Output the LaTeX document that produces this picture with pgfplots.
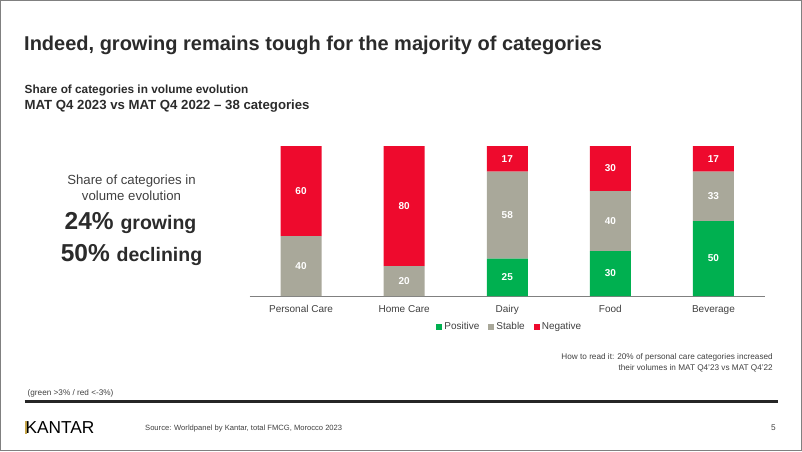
\documentclass[border=0pt]{standalone}
\usepackage{pgfplots}
\usepackage{pgfplotstable}
\pgfplotsset{compat=1.18}
\usepackage{fontspec}
\setmainfont{Liberation Sans}
\definecolor{kgreen}{HTML}{00B050}
\definecolor{kgray}{HTML}{A9A89A}
\definecolor{kred}{HTML}{EE0A2D}
\definecolor{txt}{HTML}{404040}
\definecolor{dark}{HTML}{2B2B2B}
\definecolor{kgold}{HTML}{C8A84B}
\pgfplotstableread{
x pos stab neg
0 0 40 60
1 0 20 80
2 25 58 17
3 30 40 30
4 50 33 17
}\data
\begin{document}
\begin{tikzpicture}[x=1pt,y=-1pt]
\useasboundingbox (0,0) rectangle (802,451);
\draw[gray, line width=1pt] (0.5,0.5) rectangle (801.5,450.5);
% title
\node[anchor=base west, inner sep=0, font=\fontsize{20}{24}\selectfont\bfseries, text=dark] at (24,50) {Indeed, growing remains tough for the majority of categories};
\node[anchor=base west, inner sep=0, font=\fontsize{11.8}{14}\selectfont\bfseries, text=dark] at (24.5,93.3) {Share of categories in volume evolution};
\node[anchor=base west, inner sep=0, font=\fontsize{13.2}{15}\selectfont\bfseries, text=dark] at (24.5,109) {MAT Q4 2023 vs MAT Q4 2022 – 38 categories};
% left text
\node[anchor=base, inner sep=0, font=\fontsize{13.2}{15}\selectfont, text=txt] at (131.5,184.5) {Share of categories in};
\node[anchor=base, inner sep=0, font=\fontsize{13.2}{15}\selectfont, text=txt] at (131.5,200) {volume evolution};
\node[anchor=base, inner sep=0, text=dark] at (130.5,229.5) {\fontsize{24.5}{28}\selectfont\bfseries 24\% \fontsize{19.5}{22}\selectfont growing};
\node[anchor=base, inner sep=0, text=dark] at (131.5,261) {\fontsize{24.5}{28}\selectfont\bfseries 50\% \fontsize{19.5}{22}\selectfont declining};
% notes
\node[anchor=base east, inner sep=0, font=\fontsize{8.2}{10}\selectfont, text=txt] at (773,359) {How to read it: 20\% of personal care categories increased};
\node[anchor=base east, inner sep=0, font=\fontsize{8.2}{10}\selectfont, text=txt] at (773,370.5) {their volumes in MAT Q4'23 vs MAT Q4'22};
\node[anchor=base west, inner sep=0, font=\fontsize{8.2}{10}\selectfont, text=txt] at (27.5,395.5) {(green >3\% / red <-3\%)};
\draw[black!85, line width=2.6pt] (24.5,401.5) -- (777.5,401.5);
\fill[kgold] (25,420.5) rectangle (26.8,433.5);
\node[anchor=base west, inner sep=0, font=\fontsize{17.3}{20}\selectfont, text=black] at (25,433.5) {\hspace{0.3pt}KANTAR};
\node[anchor=base west, inner sep=0, font=\fontsize{7.6}{10}\selectfont, text=txt] at (145,430) {Source: Worldpanel by Kantar, total FMCG, Morocco 2023};
\node[anchor=base east, inner sep=0, font=\fontsize{8.3}{10}\selectfont, text=txt] at (776,430) {5};
% chart
\begin{axis}[
  at={(249.5pt,-296pt)}, anchor=south west,
  scale only axis, width=515.5pt, height=150pt,
  ybar stacked, bar width=41pt,
  xmin=-0.5, xmax=4.5, ymin=0, ymax=100,
  hide y axis,
  axis x line*=bottom,
  x axis line style={draw=gray, line width=0.8pt, -},
  xtick={0,1,2,3,4},
  xticklabels={Personal Care, Home Care, Dairy, Food, Beverage},
  major tick length=0pt,
  xticklabel style={font=\fontsize{10}{12}\selectfont, text=txt, text height=7.5pt, text depth=2pt, yshift=-5pt},
  point meta=explicit symbolic,
  nodes near coords={\ifnum\pgfplotspointmeta=0\relax\else\pgfplotspointmeta\fi},
  nodes near coords style={anchor=center, font=\fontsize{10}{12}\selectfont\bfseries, text=white},
  legend style={at={(0.505,-0.205)}, anchor=center, draw=none, fill=none, font=\fontsize{10}{12}\selectfont, text=txt, legend columns=3, /tikz/every even column/.append style={column sep=7pt}, inner sep=0pt},
  legend image code/.code={\fill[#1, draw=none] (0pt,-3pt) rectangle (6pt,3pt);},
]
\addplot[fill=kgreen, draw=none] table[x=x, y=pos, meta=pos]{\data};
\addplot[fill=kgray, draw=none] table[x=x, y=stab, meta=stab]{\data};
\addplot[fill=kred, draw=none] table[x=x, y=neg, meta=neg]{\data};
\legend{Positive, Stable, Negative}
\end{axis}
\end{tikzpicture}
\end{document}
